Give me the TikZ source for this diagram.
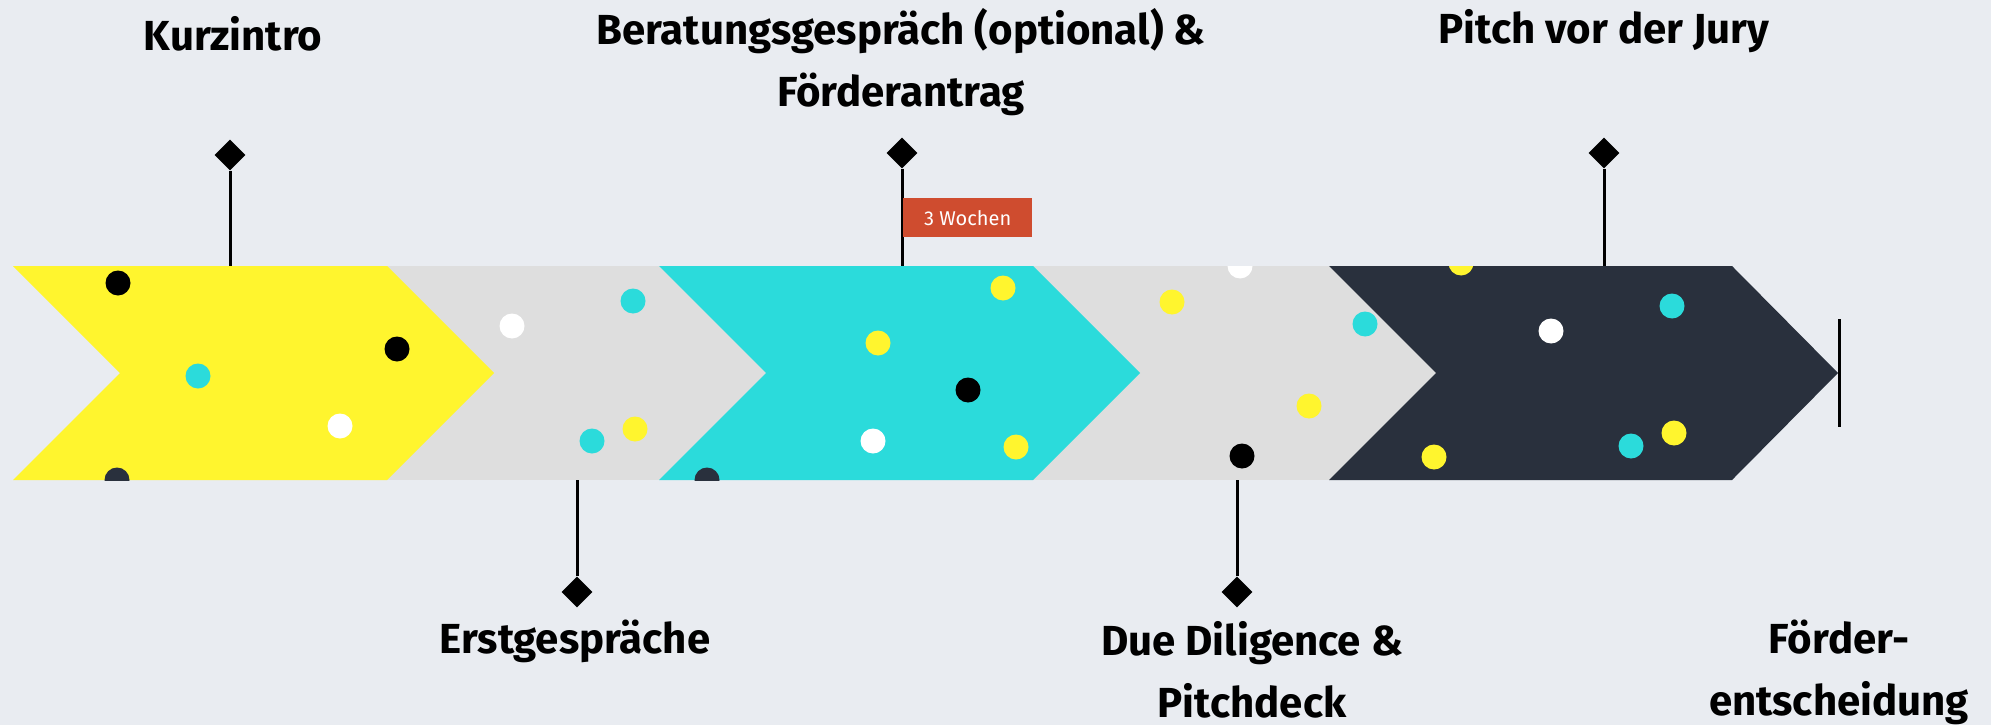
\documentclass[tikz,border=0pt]{standalone}
\usepackage{fontspec}
\setmainfont{Fira Sans}
\usepackage{tikz}
\usetikzlibrary{shapes.geometric}
\definecolor{bgblue}{HTML}{E9ECF1}
\definecolor{chyellow}{HTML}{FFF52E}
\definecolor{chgray}{HTML}{DEDEDE}
\definecolor{chcyan}{HTML}{2BDBDB}
\definecolor{chdark}{HTML}{29303D}
\definecolor{wochenred}{HTML}{CF4C2F}

\begin{document}
\begin{tikzpicture}[x=1pt,y=-1pt,
        milestone/.style={diamond, fill=black, inner sep=0pt, minimum size=31pt},
        stem/.style={line width=3pt},
        phasetext/.style={font=\fontsize{42}{62}\selectfont\bfseries, align=center, anchor=base}]
                \fill [bgblue] (0,0) rectangle (1991,725);
                \useasboundingbox (0,0) rectangle (1991,725);
                \fill [chgray] (387,266) rectangle (1436,480);
                \fill [chyellow] (13,266) -- (387,266) -- (494,373) -- (387,480) -- (13,480) -- (120,373) -- cycle;
                \fill [chcyan] (659,266) -- (1033,266) -- (1140,373) -- (1033,480) -- (659,480) -- (766,373) -- cycle;
                \fill [chdark] (1329,266) -- (1732,266) -- (1838,373) -- (1732,480) -- (1329,480) -- (1436,373) -- cycle;
                \begin{scope}
                    \clip (13,266) rectangle (1838,480);
                    \foreach \x/\y in {118/283, 397/349, 968/390, 1242/456}
                        \fill [black] (\x,\y) circle (12.5);
                    \foreach \x/\y in {198/376, 633/301, 592/441, 1365/324, 1672/306, 1631/446}
                        \fill [chcyan] (\x,\y) circle (12.5);
                    \foreach \x/\y in {340/426, 512/326, 873/441, 1240/266, 1551/331}
                        \fill [white] (\x,\y) circle (12.5);
                    \foreach \x/\y in {635/429, 1003/288, 878/343, 1016/447, 1172/302, 1309/406, 1434/457, 1461/263, 1674/433}
                        \fill [chyellow] (\x,\y) circle (12.5);
                    \foreach \x in {117, 707}
                        \fill [chdark] (\x,480) circle (12.5);
                \end{scope}
                \node [milestone] (kurzpin) at (230,155) {};
                \node [milestone] (beratpin) at (902,153) {};
                \node [milestone] (pitchpin) at (1604,153) {};
                \node [milestone] (erstpin) at (577,592) {};
                \node [milestone] (duepin) at (1237,592) {};
                \coordinate (kurztop) at (230,266);
                \coordinate (berattop) at (902,266);
                \coordinate (pitchtop) at (1604,266);
                \coordinate (erstbot) at (577,480);
                \coordinate (duebot) at (1237,480);
                \coordinate (endtop) at (1839,319);
                \coordinate (endbot) at (1839,427);
                \draw [stem] (kurzpin) -- (kurztop);
                \draw [stem] (beratpin) -- (berattop);
                \draw [stem] (pitchpin) -- (pitchtop);
                \draw [stem] (erstpin) -- (erstbot);
                \draw [stem] (duepin) -- (duebot);
                \draw [stem] (endtop) -- (endbot);
                \node [fill=wochenred, text=white, font=\fontsize{20}{24}\selectfont, inner sep=0pt, minimum width=129pt, minimum height=39pt, anchor=north west] (wochen) at (903,198) {3 Wochen};
                \node [phasetext] (kurz) at (233,51) {Kurzintro};
                \node [phasetext] (berat) at (901,106) {Beratungsgespräch (optional) \&\\Förderantrag};
                \node [phasetext] (pitch) at (1604,44) {Pitch vor der Jury};
                \node [phasetext] (erst) at (575,653) {Erstgespräche};
                \node [phasetext] (due) at (1252,717) {Due Diligence \&\\Pitchdeck};
                \node [phasetext] (entsch) at (1839,715) {Förder-\\entscheidung};
            \end{tikzpicture}
\end{document}
